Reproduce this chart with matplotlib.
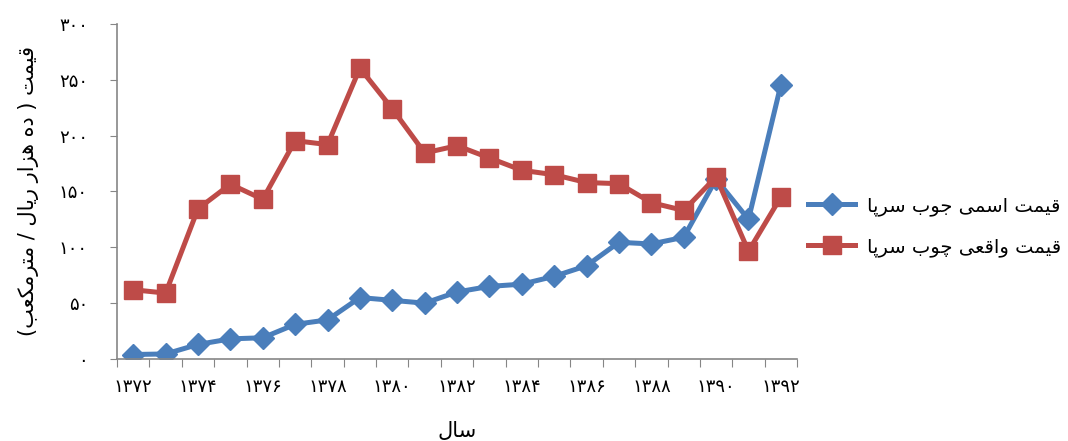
import matplotlib.pyplot as plt
import numpy as np

# --- data ---
years = list(range(1372, 1393))
nominal = [4, 4.5, 13, 18, 19, 31, 35, 55, 52.5, 50, 60, 65, 67, 74, 83.5, 104.5, 103, 109, 161, 125, 245.5]
real = [62, 59, 134.5, 156.5, 143, 195.5, 192, 260.5, 224, 184.5, 191, 180, 169, 165, 158, 157, 140, 133, 163, 96.5, 145]

label_nominal = "قیمت اسمی جوب سرپا"
label_real = "قیمت واقعی چوب سرپا"
xlabel = "سال"
ylabel = "قیمت ( ده هزار ریال / مترمکعب)"

# --- minimal persian shaping (matplotlib has no RTL/joining support) ---
# char: (isolated, final, initial, medial); None = does not join to the left
forms = {
    'ا': (0xFE8D, 0xFE8E, None, None),
    'ب': (0xFE8F, 0xFE90, 0xFE91, 0xFE92),
    'ت': (0xFE95, 0xFE96, 0xFE97, 0xFE98),
    'ج': (0xFE9D, 0xFE9E, 0xFE9F, 0xFEA0),
    'د': (0xFEA9, 0xFEAA, None, None),
    'ر': (0xFEAD, 0xFEAE, None, None),
    'ز': (0xFEAF, 0xFEB0, None, None),
    'س': (0xFEB1, 0xFEB2, 0xFEB3, 0xFEB4),
    'ع': (0xFEC9, 0xFECA, 0xFECB, 0xFECC),
    'ق': (0xFED5, 0xFED6, 0xFED7, 0xFED8),
    'ل': (0xFEDD, 0xFEDE, 0xFEDF, 0xFEE0),
    'م': (0xFEE1, 0xFEE2, 0xFEE3, 0xFEE4),
    'ه': (0xFEE9, 0xFEEA, 0xFEEB, 0xFEEC),
    'و': (0xFEED, 0xFEEE, None, None),
    'ی': (0xFBFC, 0xFBFD, 0xFBFE, 0xFBFF),
    'ک': (0xFB8E, 0xFB8F, 0xFB90, 0xFB91),
    'پ': (0xFB56, 0xFB57, 0xFB58, 0xFB59),
    'چ': (0xFB7A, 0xFB7B, 0xFB7C, 0xFB7D),
}
mirror = {'(': ')', ')': '('}


def shape(s):
    out = []
    for i, c in enumerate(s):
        if c not in forms:
            out.append(mirror.get(c, c))
            continue
        prev = s[i - 1] if i > 0 else ''
        nxt = s[i + 1] if i < len(s) - 1 else ''
        join_prev = prev in forms and forms[prev][2] is not None
        join_next = nxt in forms and forms[c][2] is not None
        iso, fin, ini, med = forms[c]
        if join_prev and join_next:
            code = med
        elif join_prev:
            code = fin
        elif join_next:
            code = ini
        else:
            code = iso
        out.append(chr(code))
    return ''.join(out[::-1])


def fa_digits(n):
    return str(n).translate(str.maketrans('0123456789', '۰۱۲۳۴۵۶۷۸۹'))


blue = '#4A7EBB'
red = '#BE4B48'
gray = '#868686'

fig = plt.figure(figsize=(10.68, 4.41), dpi=100)
ax = fig.add_axes([0.1096, 0.186, 0.6367, 0.7596])

ax.plot(years, nominal, color=blue, lw=3.6, marker='D', markersize=11.5, label=shape(label_nominal))
ax.plot(years, real, color=red, lw=3.6, marker='s', markersize=13.5, label=shape(label_real))

ax.set_xlim(years[0] - 0.5, years[-1] + 0.5)
ax.set_ylim(0, 300)

yt = np.arange(0, 301, 50)
ax.set_yticks(yt)
ax.set_yticklabels([fa_digits(v) for v in yt], fontsize=13)
ax.tick_params(axis='y', length=5, color=gray, pad=16)

# category boundaries carry the tick marks, labels sit on every second year
ax.set_xticks(np.arange(years[0] - 0.5, years[-1] + 1, 1))
ax.set_xticklabels([])
ax.tick_params(axis='x', which='major', length=6, color=gray)
lab_years = years[::2]
ax.set_xticks(lab_years, minor=True)
ax.set_xticklabels([fa_digits(y) for y in lab_years], minor=True, fontsize=13)
ax.tick_params(axis='x', which='minor', length=0, pad=14)

for side in ['top', 'right']:
    ax.spines[side].set_visible(False)
for side in ['left', 'bottom']:
    ax.spines[side].set_color(gray)
    ax.spines[side].set_linewidth(1.2)

ax.set_xlabel(shape(xlabel), fontsize=15, labelpad=18)
ax.set_ylabel(shape(ylabel), fontsize=15, labelpad=14)

fig.legend(loc='center left', bbox_to_anchor=(0.757, 0.487), frameon=False,
           fontsize=14, handlelength=2.4, handletextpad=0.6, labelspacing=1.1,
           borderaxespad=0, borderpad=0)

fig.savefig('out.png', dpi=100)
